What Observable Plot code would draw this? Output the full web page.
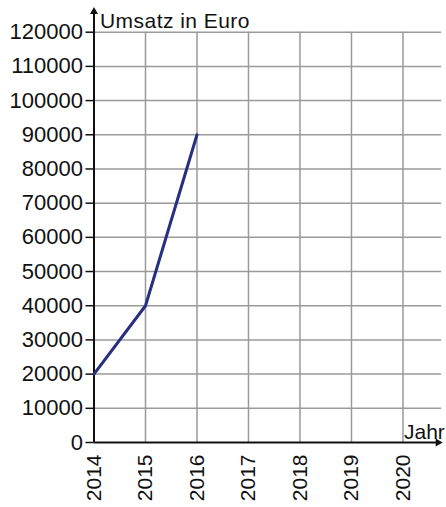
<!DOCTYPE html>
<html><head><meta charset="utf-8">
<script src="https://cdn.jsdelivr.net/npm/d3@7"></script>
<script src="https://cdn.jsdelivr.net/npm/@observablehq/plot@0.6"></script>
<style>body{margin:0;background:#fff}</style>
</head><body><div id="chart"></div>
<script>
const years = [2014, 2015, 2016];
const umsatz = [20000, 40000, 90000];
const xTicks = [2014, 2015, 2016, 2017, 2018, 2019, 2020];
const yTicks = [0, 10000, 20000, 30000, 40000, 50000, 60000, 70000, 80000, 90000, 100000, 110000, 120000];
const yLabel = "Umsatz in Euro";
const xLabel = "Jahr";

const data = years.map((j, i) => ({jahr: j, umsatz: umsatz[i]}));
const xMax = 2020.75, yTop = 126000;

const chart = Plot.plot({
  width: 446, height: 507,
  marginLeft: 93.5, marginRight: 4.9, marginTop: 31.7, marginBottom: 65,
  style: {fontFamily: "'Liberation Sans', Arial, sans-serif", fontSize: "21px", color: "#111", background: "#fff"},
  x: {domain: [2014, xMax]},
  y: {domain: [0, 120000]},
  marks: [
    Plot.ruleX(xTicks.slice(1), {y1: 0, y2: 120000, stroke: "#9a9a9a", strokeWidth: 1.5}),
    Plot.ruleY(yTicks.slice(1), {x1: 2014, x2: xMax, stroke: "#9a9a9a", strokeWidth: 1.5}),
    Plot.axisY(yTicks, {tickSize: 8, tickPadding: 3, tickFormat: d => String(d), fontSize: 22, label: null, stroke: "#111", strokeWidth: 1.5}),
    Plot.axisX(xTicks, {tickSize: 0, tickPadding: 12, tickRotate: -90, tickFormat: d => String(d), fontSize: 21, label: null}),
    Plot.ruleX([2014], {y1: 0, y2: yTop, stroke: "#111", strokeWidth: 2}),
    Plot.ruleY([0], {x1: 2014, x2: xMax - 0.1, stroke: "#111", strokeWidth: 2}),
    Plot.dot([{x: 2014, y: yTop}], {x: "x", y: "y", symbol: "triangle", r: 3, fill: "#111", stroke: "none"}),
    Plot.dot([{x: xMax - 0.07, y: 0}], {x: "x", y: "y", symbol: "triangle", r: 3, fill: "#111", stroke: "none", rotate: 90}),
    Plot.text([yLabel], {x: 2014, y: 120000, dx: 6, dy: -4, lineAnchor: "bottom", text: d => d, textAnchor: "start", fontSize: 21, fill: "#111", style: "letter-spacing:0.45px"}),
    Plot.text([xLabel], {x: 2020, y: 0, dx: 1, dy: -4, lineAnchor: "bottom", text: d => d, textAnchor: "start", fontSize: 21, fill: "#111"}),
    Plot.line(data, {x: "jahr", y: "umsatz", stroke: "#262f80", strokeWidth: 3})
  ]
});
chart.querySelectorAll("text").forEach(t => { if (t.textContent === yLabel) t.style.letterSpacing = "0.45px"; });
document.getElementById("chart").appendChild(chart);
</script>
</body></html>
